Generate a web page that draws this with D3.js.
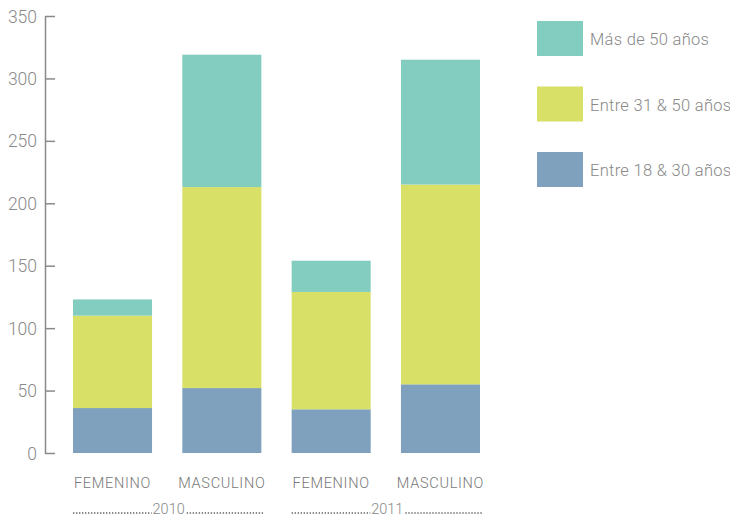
<!DOCTYPE html>
<html>
<head>
<meta charset="utf-8">
<script src="https://cdn.jsdelivr.net/npm/d3@7"></script>
<style>
  body { margin: 0; background: #fff; }
  svg text { font-family: "Roboto", "DejaVu Sans", sans-serif; font-weight: 300; }
</style>
</head>
<body>
<div class="chart"></div>
<script>
"use strict";

// data
const years = ["2010", "2011"];
const bars = ["F2010", "M2010", "F2011", "M2011"];
const barLabels = ["FEMENINO", "MASCULINO", "FEMENINO", "MASCULINO"];
const barYears = ["2010", "2010", "2011", "2011"];
const series = ["Entre 18 & 30 años", "Entre 31 & 50 años", "Más de 50 años"];
const young = [36, 52, 35, 55];
const middle = [74, 161, 94, 160];
const older = [13, 106, 25, 100];
const colors = ["#7fa1bd", "#d8e067", "#82cdc0"];
const yTicks = [0, 50, 100, 150, 200, 250, 300, 350];

const width = 730, height = 519;
const margin = { top: 16, left: 45, bottom: 66 };

const svg = d3.select(".chart").append("svg")
    .attr("width", width)
    .attr("height", height);

const x = d3.scaleBand()
    .domain(bars)
    .range([73, 480])
    .paddingInner(0.277)
    .paddingOuter(0);

const y = d3.scaleLinear()
    .domain([0, 350])
    .range([height - margin.bottom, margin.top]);

const rows = bars.map((b, i) => ({ bar: b, young: young[i], middle: middle[i], older: older[i] }));
const stack = d3.stack().keys(["young", "middle", "older"]);
const layers = stack(rows);

svg.selectAll("g.layer")
    .data(layers)
    .join("g")
    .attr("class", "layer")
    .attr("fill", (d, i) => colors[i])
    .selectAll("rect")
    .data(d => d)
    .join("rect")
    .attr("x", d => x(d.data.bar))
    .attr("width", x.bandwidth())
    .attr("y", d => y(d[1]))
    .attr("height", d => y(d[0]) - y(d[1]));

// y axis
const yAxis = svg.append("g")
    .attr("transform", `translate(${margin.left},0)`)
    .call(d3.axisRight(y).tickValues(yTicks).tickSize(10).tickSizeOuter(0));
yAxis.select(".domain").attr("stroke", "#8a8a8a").attr("stroke-width", 1.5);
yAxis.selectAll(".tick line").attr("stroke", "#8a8a8a").attr("stroke-width", 1.5);
yAxis.selectAll(".tick text")
    .attr("x", -8)
    .attr("dy", "0.35em")
    .attr("text-anchor", "end")
    .attr("fill", "#8a8a8a")
    .attr("font-size", 17.5)
    .attr("font-weight", 300);

// category labels
svg.selectAll("text.cat")
    .data(bars)
    .join("text")
    .attr("class", "cat")
    .attr("x", d => x(d) + x.bandwidth() / 2)
    .attr("y", 488)
    .attr("text-anchor", "middle")
    .attr("fill", "#777")
    .attr("font-size", 14.5)
    .attr("letter-spacing", 0.7)
    .text((d, i) => barLabels[i]);

// year labels with dotted rules
years.forEach(yr => {
    const bs = bars.filter((b, i) => barYears[i] === yr);
    const x0 = x(bs[0]);
    const x1 = x(bs[bs.length - 1]) + x.bandwidth() + 3;
    const cx = (x0 + x1) / 2;
    const g = svg.append("g");
    g.append("line")
        .attr("x1", x0).attr("x2", cx - 17)
        .attr("y1", 513).attr("y2", 513)
        .attr("stroke", "#666").attr("stroke-width", 1.5)
        .attr("stroke-dasharray", "1.4,1.6");
    g.append("line")
        .attr("x1", cx + 18).attr("x2", x1)
        .attr("y1", 513).attr("y2", 513)
        .attr("stroke", "#666").attr("stroke-width", 1.5)
        .attr("stroke-dasharray", "1.4,1.6");
    g.append("text")
        .attr("x", cx)
        .attr("y", 514)
        .attr("text-anchor", "middle")
        .attr("fill", "#888")
        .attr("font-size", 14.5)
        .text(yr);
});

// legend, top entry is the top of the stack
const legendItems = series.map((s, i) => ({ name: s, color: colors[i] })).reverse();
const legend = svg.selectAll("g.legend")
    .data(legendItems)
    .join("g")
    .attr("class", "legend")
    .attr("transform", (d, i) => `translate(537,${21 + i * 65.5})`);
legend.append("rect")
    .attr("width", 46)
    .attr("height", 35)
    .attr("fill", d => d.color);
legend.append("text")
    .attr("x", 53)
    .attr("y", 24)
    .attr("fill", "#888")
    .attr("font-size", 16.5)
    .attr("letter-spacing", 0.3)
    .text(d => d.name);
</script>
</body>
</html>
